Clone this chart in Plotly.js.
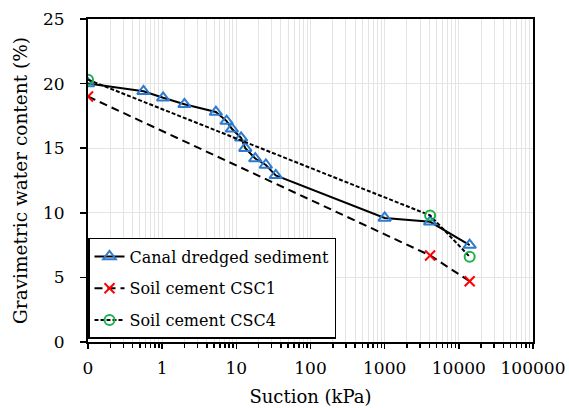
<!DOCTYPE html>
<html>
<head>
<meta charset="utf-8">
<script src="https://cdn.plot.ly/plotly-3.0.1.min.js"></script>
<style>html,body{margin:0;padding:0;background:#fff;}#chart{width:569px;height:408px;}</style>
</head>
<body>
<div id="chart"></div>
<script>
// Suction (kPa); 0.1 stands for the "0" position on the log axis
const canalSuction = [0.1, 0.56, 1.03, 2.0, 5.3, 7.4, 8.7, 11.6, 13.2, 18, 25, 34, 1000, 4100, 14000];
const canalWater   = [20.0, 19.4, 18.9, 18.4, 17.8, 17.1, 16.5, 15.8, 15.0, 14.2, 13.7, 12.9, 9.6, 9.3, 7.5];
const csc1Suction  = [0.1, 4100, 14000];
const csc1Water    = [19.0, 6.7, 4.7];
const csc4Suction  = [0.1, 4100, 14000];
const csc4Water    = [20.3, 9.8, 6.6];
const xTickVals = [0.1, 1, 10, 100, 1000, 10000, 100000];
const xTickText = ["0", "1", "10", "100", "1000", "10000", "100000"];
const seriesNames = ["Canal dredged sediment", "Soil cement CSC1", "Soil cement CSC4"];

const minorVals = [];
for (let e = -1; e <= 4; e++) {
  for (let m = 2; m <= 9; m++) minorVals.push(m * Math.pow(10, e));
}

const FONT = "DejaVu Serif";

const traces = [
  {
    x: canalSuction, y: canalWater, name: seriesNames[0], type: "scatter", mode: "lines+markers",
    legendgroup: "a",
    line: {color: "#000000", width: 2},
    marker: {symbol: "triangle-up-open", size: 11, color: "#2E7BCF", line: {width: 2, color: "#2E7BCF"}}
  },
  {
    x: csc1Suction, y: csc1Water, name: seriesNames[1], type: "scatter", mode: "lines+markers",
    legendgroup: "b",
    line: {color: "#000000", width: 2, dash: "8px,5px"},
    marker: {symbol: "x-thin-open", size: 10, color: "#FF0000", line: {width: 2, color: "#FF0000"}}
  },
  {
    x: csc4Suction, y: csc4Water, name: seriesNames[2], type: "scatter", mode: "lines+markers",
    legendgroup: "c",
    line: {color: "#000000", width: 2, dash: "4px,2px"},
    marker: {symbol: "circle-open", size: 10, color: "#1DB04B", line: {width: 2, color: "#1DB04B"}}
  }
];

const layout = {
  width: 569, height: 408,
  margin: {l: 88, r: 36, t: 19, b: 66},
  paper_bgcolor: "#ffffff", plot_bgcolor: "#ffffff",
  font: {family: FONT, size: 17, color: "#000000"},
  showlegend: true,
  legend: {
    x: 0, y: 0.322, xanchor: "left", yanchor: "top",
    bgcolor: "#ffffff", bordercolor: "#000000", borderwidth: 1.5,
    font: {family: FONT, size: 16, color: "#000000"},
    tracegroupgap: 8, itemwidth: 30
  },
  xaxis: {
    type: "log", range: [-1, 5],
    tickmode: "array", tickvals: xTickVals, ticktext: xTickText,
    ticks: "outside", ticklen: 5, tickwidth: 1.5, tickcolor: "#000",
    showline: true, linecolor: "#000", linewidth: 2, mirror: true,
    showgrid: true, gridcolor: "#e4e4e4", gridwidth: 1,
    zeroline: false,
    tickfont: {family: FONT, size: 17},
    ticklabelstandoff: 5,
    minor: {tickmode: "array", tickvals: minorVals, ticks: "outside", ticklen: 4, tickwidth: 1.5, tickcolor: "#000", showgrid: true, gridcolor: "#e4e4e4", gridwidth: 1},
    title: {text: "Suction (kPa)", font: {family: FONT, size: 18}, standoff: 13}
  },
  yaxis: {
    range: [0, 25], dtick: 5, tick0: 0,
    ticks: "outside", ticklen: 6, tickwidth: 1.5, tickcolor: "#000",
    showline: true, linecolor: "#000", linewidth: 2, mirror: true,
    showgrid: true, gridcolor: "#e4e4e4", gridwidth: 1,
    zeroline: false,
    tickfont: {family: FONT, size: 17},
    ticklabelstandoff: 12,
    title: {text: "Gravimetric water content (%)", font: {family: FONT, size: 18.5}, standoff: 10}
  }
};

Plotly.newPlot("chart", traces, layout, {displayModeBar: false, staticPlot: true});
</script>
</body>
</html>
